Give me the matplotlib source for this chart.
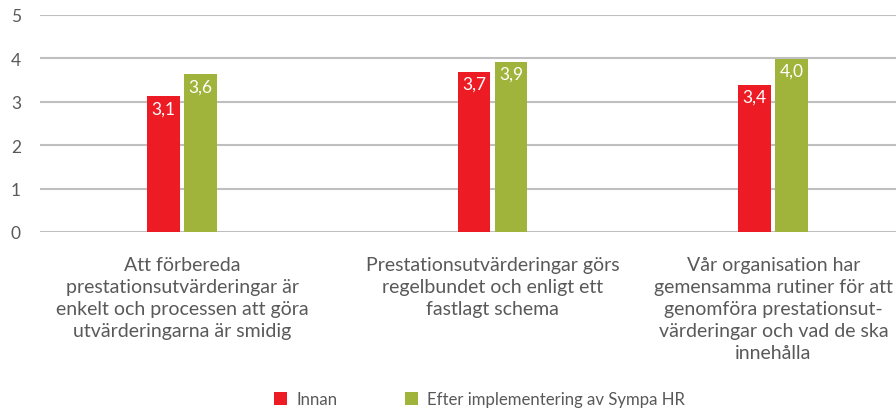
import numpy as np
import matplotlib.pyplot as plt

plt.rcParams['font.family'] = ['Lato', 'DejaVu Sans']

categories = [
    'Att förbereda\nprestationsutvärderingar är\nenkelt och processen att göra\nutvärderingarna är smidig',
    'Prestationsutvärderingar görs\nregelbundet och enligt ett\nfastlagt schema',
    'Vår organisation har\ngemensamma rutiner för att\ngenomföra prestationsut-\nvärderingar och vad de ska\ninnehålla',
]
innan = [3.13, 3.69, 3.39]
efter = [3.64, 3.92, 3.99]
innan_labels = ['3,1', '3,7', '3,4']
efter_labels = ['3,6', '3,9', '4,0']
series_names = ['Innan', 'Efter implementering av Sympa HR']

red = '#ED1C24'
green = '#A0B43B'
grey = '#595959'

fig = plt.figure(figsize=(8.96, 4.1), dpi=100)
ax = fig.add_axes([40/896, 177/410, 1 - 40/896, 217/410])

x = np.array([0, 1, 1.905])
w = 0.106
off = 0.0597

b1 = ax.bar(x - off, innan, w, color=red, label=series_names[0], zorder=3)
b2 = ax.bar(x + off, efter, w, color=green, label=series_names[1], zorder=3)

for bars, labs in [(b1, innan_labels), (b2, efter_labels)]:
    for rect, lab in zip(bars, labs):
        ax.annotate(lab, (rect.get_x() + rect.get_width()/2, rect.get_height()),
                    xytext=(0, -3), textcoords='offset points',
                    ha='center', va='top', color='white', fontsize=12.5, zorder=4)

ax.set_ylim(0, 5)
ax.set_xlim(-0.458, 2.30)
ax.set_yticks(range(6))
ax.yaxis.grid(True, color='#BFBFBF', linewidth=1.5, zorder=0)
ax.set_axisbelow(True)
for s in ax.spines.values():
    s.set_visible(False)
ax.tick_params(axis='y', length=0, labelsize=12.5, labelcolor=grey)
ax.tick_params(axis='x', length=0)
ax.set_xticks(x)
ax.set_xticklabels(categories, fontsize=14, color=grey, linespacing=1.36)
ax.tick_params(axis='x', pad=17)
for t in ax.get_yticklabels():
    t.set_horizontalalignment('left')
ax.yaxis.set_tick_params(pad=21)

fig.legend(loc='center', bbox_to_anchor=(0.535, 0.024), ncol=2, frameon=False,
           fontsize=12.1, labelcolor=grey, handlelength=0.8, handleheight=0.8,
           handletextpad=0.55, columnspacing=4.0)

fig.savefig('out.png', dpi=100)
